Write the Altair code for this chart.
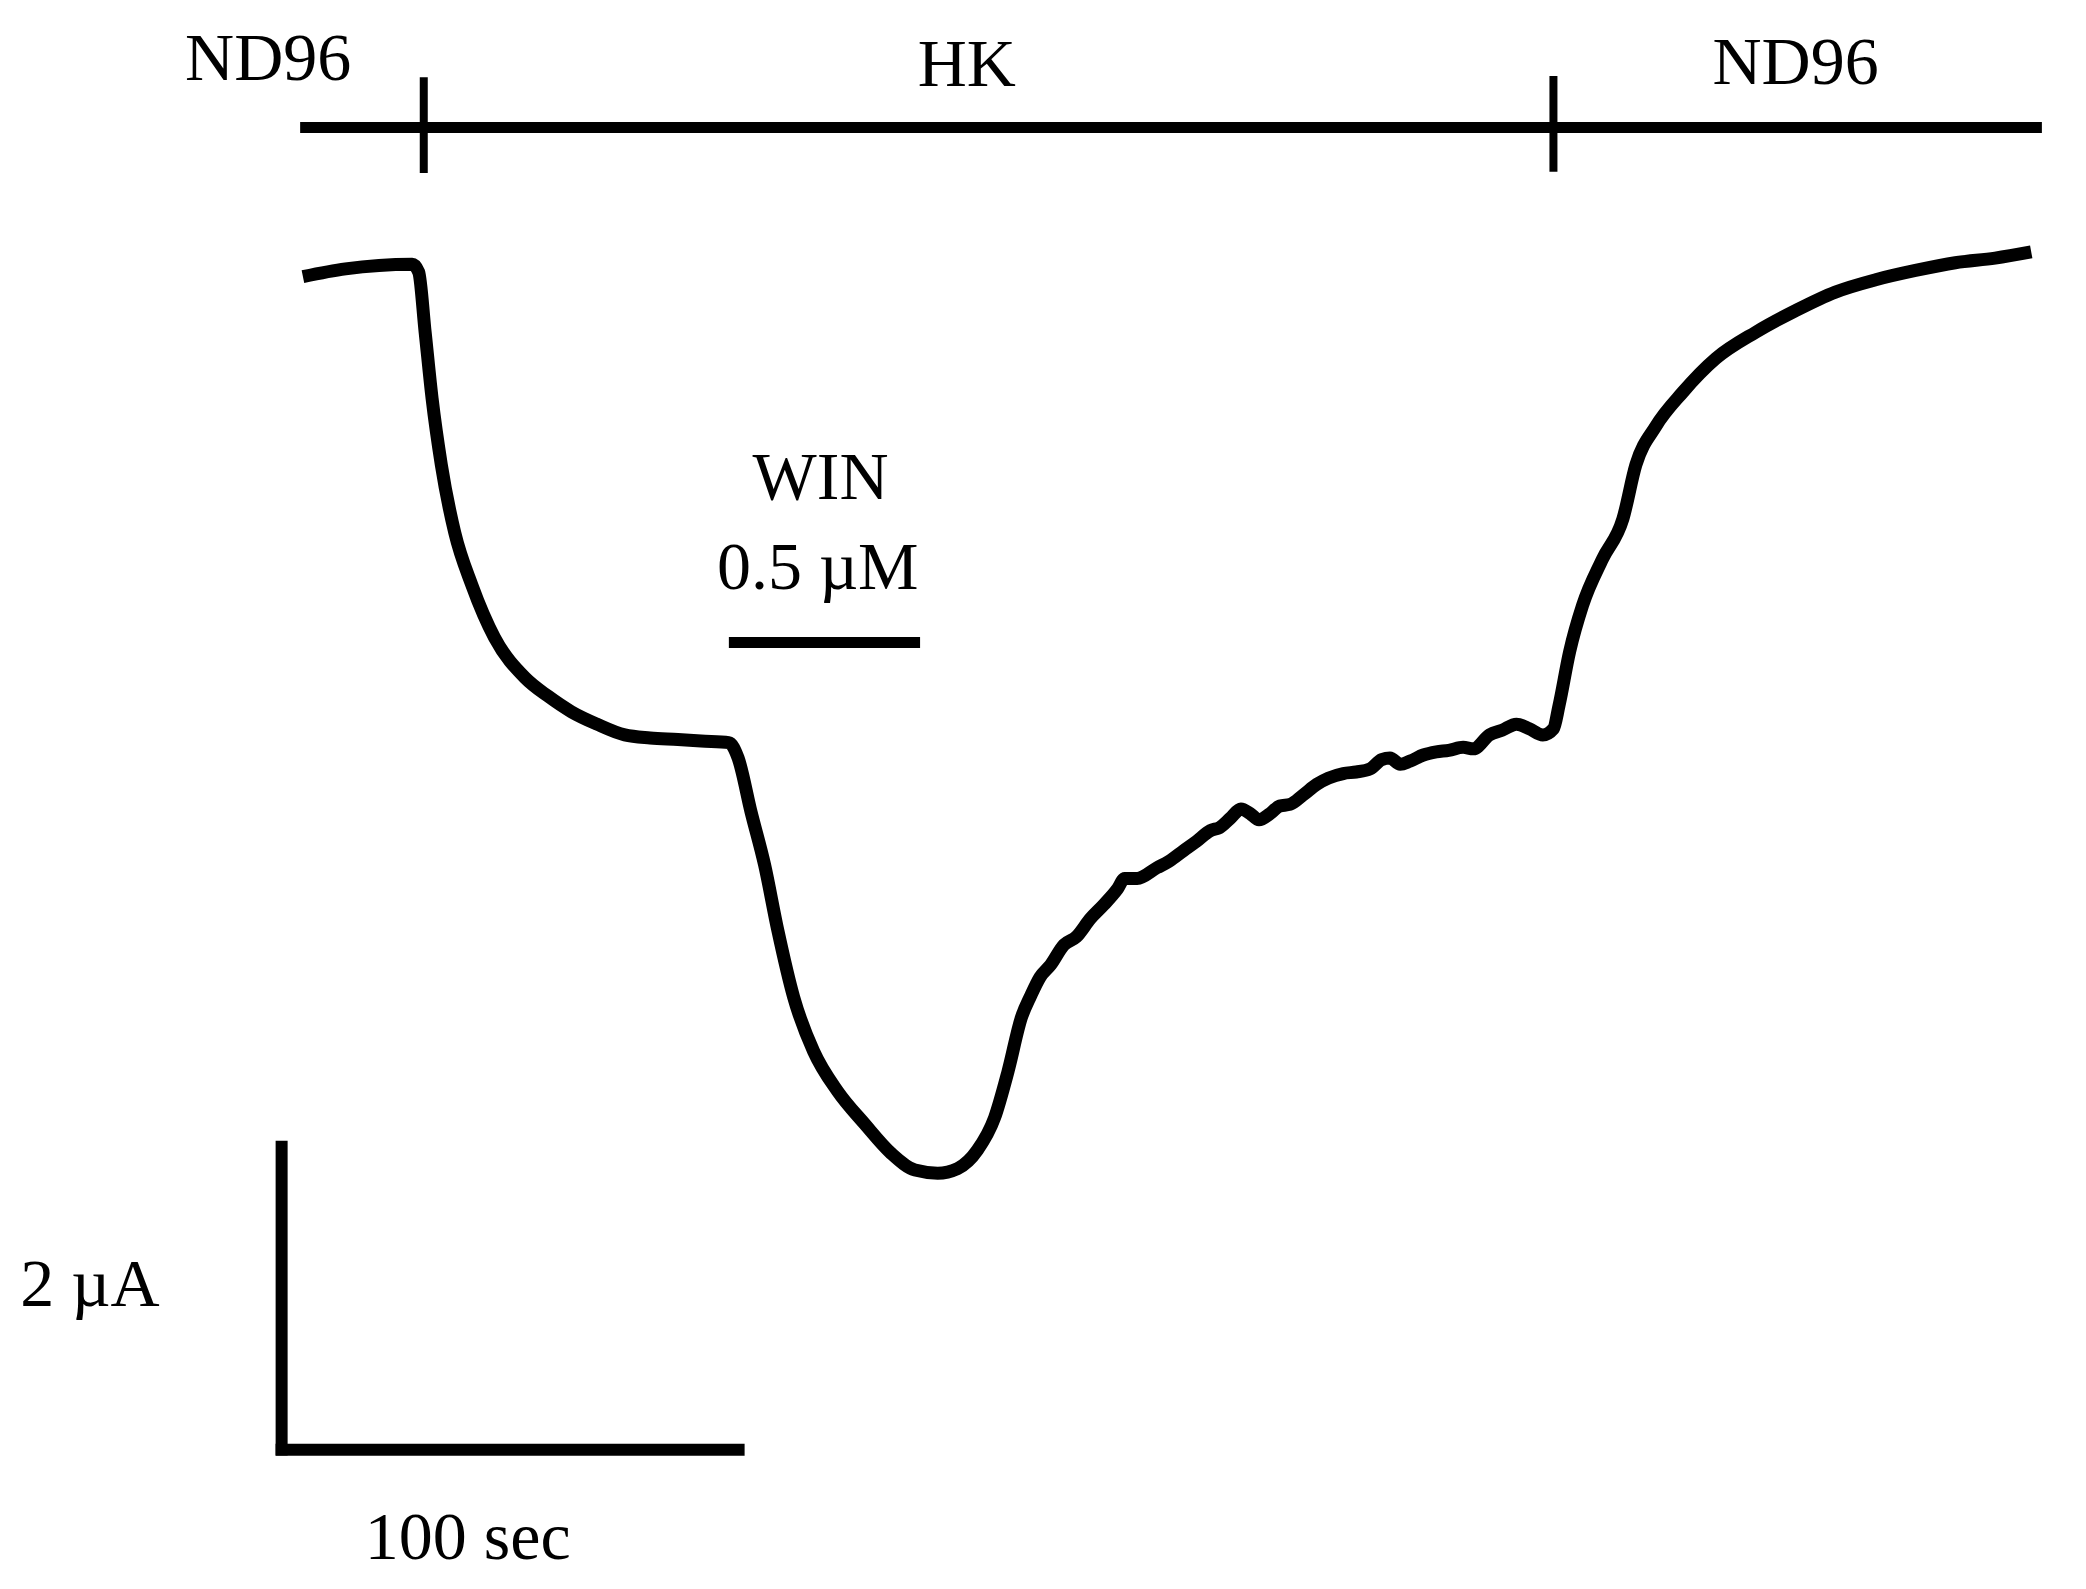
import altair as alt
import pandas as pd

# ---- trace (time in s, current in µA, relative to starting baseline) ----
time_s = [0, 9.2, 23.6, 25.0, 26.4, 27.9, 29.9, 32.8, 36.5, 41.4, 48.0, 53.0, 58.0, 63.5, 69.5,
          75.0, 81.0, 86.0, 92.0, 94.0, 96.8, 99.7, 102.6, 106.0, 110.3, 115.5, 121.3, 127.0,
          132.2, 137.1, 141.4, 145.7, 149.4, 152.3, 155.2, 157.2, 159.2, 161.5, 164.4, 167.0,
          170.1, 173.0, 175.9, 177.5, 180.2, 184.5, 187.0, 190.2, 193.0, 196.0, 198.0, 200.3,
          202.6, 204.6, 206.5, 208.9, 211.0, 213.2, 216.0, 219.0, 221.5, 224.7, 227.5, 230.5,
          233.0, 234.8, 237.0, 239.1, 242.0, 244.8, 247.5, 250.6, 252.8, 256.3, 259.0, 262.1,
          264.9, 267.8, 270.1, 271.3, 273.6, 276.4, 280.7, 285.1, 287.9, 292.2, 298.0, 305.2,
          313.8, 322.4, 331.0, 339.7, 348.3, 356.9, 365.5, 373.3]
current_uA = [0.00, 0.05, 0.08, 0.03, -0.36, -0.79, -1.22, -1.66, -2.00, -2.34, -2.60, -2.72,
              -2.82, -2.90, -2.97, -2.99, -3.00, -3.01, -3.02, -3.12, -3.47, -3.81, -4.24, -4.67,
              -5.02, -5.28, -5.49, -5.68, -5.79, -5.81, -5.78, -5.66, -5.45, -5.15, -4.80, -4.66,
              -4.54, -4.46, -4.33, -4.28, -4.16, -4.07, -3.97, -3.90, -3.90, -3.83, -3.79, -3.72,
              -3.66, -3.59, -3.57, -3.51, -3.45, -3.48, -3.52, -3.48, -3.43, -3.42, -3.36, -3.29,
              -3.25, -3.22, -3.21, -3.19, -3.13, -3.12, -3.16, -3.14, -3.10, -3.08, -3.07, -3.05,
              -3.06, -2.97, -2.94, -2.90, -2.93, -2.97, -2.93, -2.78, -2.43, -2.13, -1.83, -1.57,
              -1.22, -0.97, -0.75, -0.53, -0.36, -0.22, -0.10, -0.02, 0.04, 0.09, 0.12, 0.16]

# ---- annotation bars (segments) ----
seg_x = [-0.6, 26.1, 270.1, 92.0, -4.6, -5.9]
seg_x2 = [375.6, 26.1, 270.1, 133.3, -4.6, 95.4]
seg_y = [0.966, 1.293, 1.300, -2.371, -5.60, -7.603]
seg_y2 = [0.966, 0.672, 0.680, -2.371, -7.64, -7.603]
seg_w = [11, 8, 8, 11, 12, 12]

# ---- labels ----
label_text = ["ND96", "HK", "ND96", "WIN", "0.5 µM", "2 µA", "100 sec"]
label_x = [-7.5, 143.4, 322.4, 111.8, 111.2, -46.0, 35.6]
label_y = [1.405, 1.362, 1.38, -1.31, -1.897, -6.54, -8.18]

trace = pd.DataFrame({"t": time_s, "i": current_uA})
segs = pd.DataFrame({"x": seg_x, "x2": seg_x2, "y": seg_y, "y2": seg_y2, "w": seg_w})
labels = pd.DataFrame({"text": label_text, "x": label_x, "y": label_y})

W, H = 2070, 1573
xs = alt.Scale(domain=[-63.7, 383.4], nice=False, zero=False)
ys = alt.Scale(domain=[-8.453, 1.741], nice=False, zero=False)

line = alt.Chart(trace).mark_line(color="black", strokeWidth=13, strokeJoin="round",
                                  strokeCap="butt", interpolate="monotone").encode(
    x=alt.X("t:Q", scale=xs, axis=None),
    y=alt.Y("i:Q", scale=ys, axis=None),
    order="t:Q",
)

rules = alt.Chart(segs).mark_rule(color="black").encode(
    x=alt.X("x:Q", scale=xs, axis=None),
    x2="x2:Q",
    y=alt.Y("y:Q", scale=ys, axis=None),
    y2="y2:Q",
    strokeWidth=alt.StrokeWidth("w:Q", scale=None, legend=None),
)

texts = alt.Chart(labels).mark_text(
    font="Liberation Serif", fontSize=68, color="black", align="center", baseline="middle"
).encode(
    x=alt.X("x:Q", scale=xs, axis=None),
    y=alt.Y("y:Q", scale=ys, axis=None),
    text="text:N",
)

chart = alt.layer(line, rules, texts).properties(
    width=W, height=H, padding=0, autosize=alt.AutoSizeParams(type="none"),
    background="white",
).configure_view(stroke=None)

chart.save("out.html", embed_options={"renderer": "svg", "actions": False})
